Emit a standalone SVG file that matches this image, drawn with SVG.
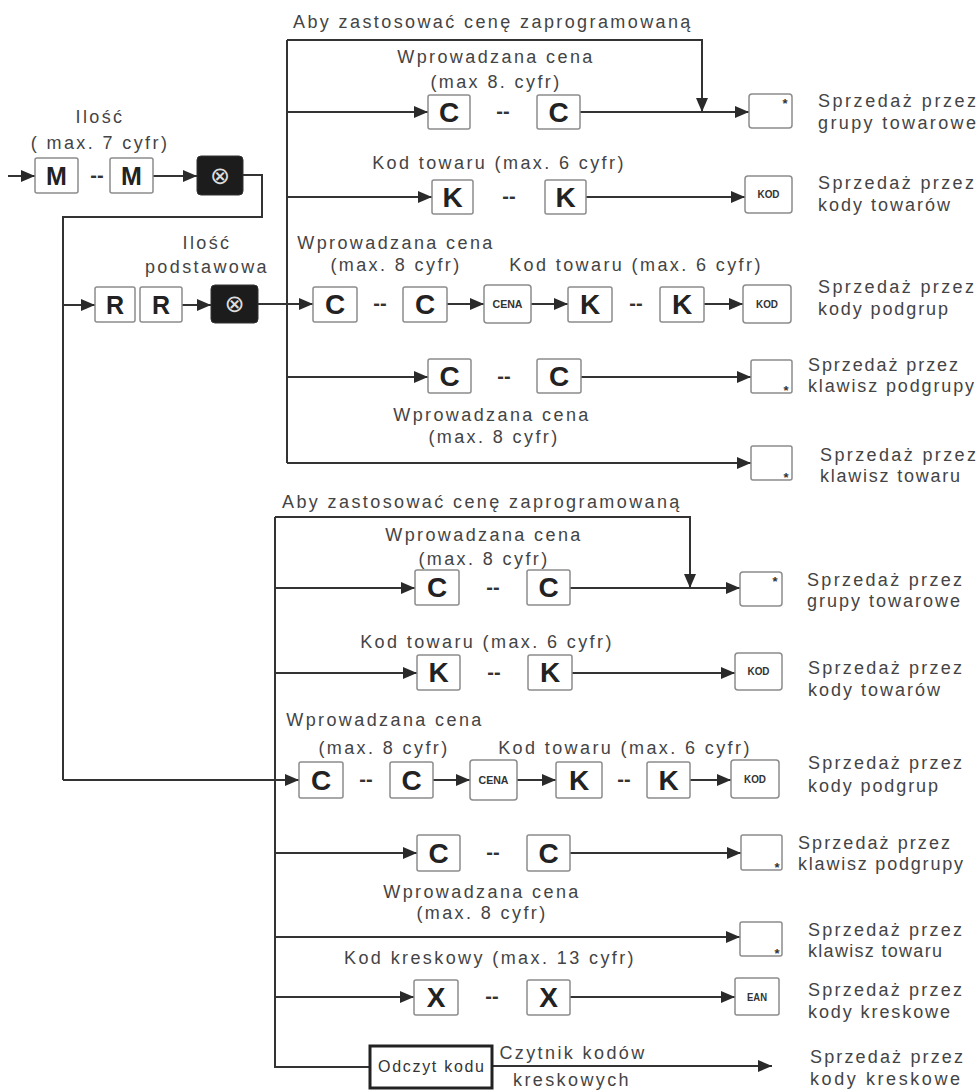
<svg xmlns="http://www.w3.org/2000/svg" width="979" height="1090" viewBox="0 0 979 1090">
<defs>
<marker id="ah" markerUnits="userSpaceOnUse" markerWidth="15" markerHeight="12" refX="14" refY="6" orient="auto">
<path d="M0,0 L14,6 L0,12 z" fill="#2a2a2a"/>
</marker>
<style>
.ln{stroke:#333;stroke-width:2;fill:none}
.ar{marker-end:url(#ah)}
.key{fill:#fff;stroke:#8c8c8c;stroke-width:1.5}
.dk{fill:#1c1c1c;stroke:#333;stroke-width:1}
.kl{font-family:"Liberation Sans",Arial,sans-serif;font-weight:bold;font-size:28px;fill:#222;text-anchor:middle}
.km{font-family:"Liberation Sans",Arial,sans-serif;font-weight:bold;font-size:25px;fill:#222;text-anchor:middle}
.ks{font-family:"Liberation Sans",Arial,sans-serif;font-weight:bold;font-size:11px;fill:#333;text-anchor:middle}
.st{font-family:"Liberation Sans",Arial,sans-serif;font-weight:bold;font-size:13px;fill:#333;text-anchor:middle}
.dash{font-family:"Liberation Sans",Arial,sans-serif;font-weight:bold;font-size:20px;fill:#333;text-anchor:middle}
.lb{font-family:"Liberation Sans",Arial,sans-serif;font-size:18px;fill:#444;letter-spacing:2.4px;text-anchor:middle}
.ls{font-family:"Liberation Sans",Arial,sans-serif;font-size:18px;fill:#444;letter-spacing:2.4px}
.rt{font-family:"Liberation Sans",Arial,sans-serif;font-size:18px;fill:#444}
.ox{font-family:"DejaVu Sans",sans-serif;font-size:24px;fill:#ddd;text-anchor:middle}
</style>
</defs>

<g id="connectors">
<path class="ln ar" d="M8,176 H35"/>
<path class="ln ar" d="M153,176 H197"/>
<path class="ln" d="M243,175 H262 V217 H63 V780"/>
<path class="ln ar" d="M63,780 H299"/>
<path class="ln ar" d="M63,305 H95"/>
<path class="ln ar" d="M182,305 H211"/>
<path class="ln" d="M287,40 V463"/>
<path class="ln ar" d="M287,40 H702 V112"/>
<path class="ln ar" d="M287,112 H428"/>
<path class="ln ar" d="M580,112 H749"/>
<path class="ln ar" d="M287,197 H432"/>
<path class="ln ar" d="M586,197 H745"/>
<path class="ln ar" d="M258,304 H313"/>
<path class="ln ar" d="M447,304 H484"/>
<path class="ln ar" d="M531,304 H568"/>
<path class="ln ar" d="M704,304 H743"/>
<path class="ln ar" d="M287,377 H428"/>
<path class="ln ar" d="M581,377 H751"/>
<path class="ln ar" d="M287,463 H751"/>
<path class="ln" d="M275,517 V1067 H370"/>
<path class="ln ar" d="M275,517 H690 V588"/>
<path class="ln ar" d="M275,588 H415"/>
<path class="ln ar" d="M570,588 H740"/>
<path class="ln ar" d="M275,673 H417"/>
<path class="ln ar" d="M572,673 H735"/>
<path class="ln ar" d="M433,780 H470"/>
<path class="ln ar" d="M517,780 H556"/>
<path class="ln ar" d="M690,780 H731"/>
<path class="ln ar" d="M275,853 H417"/>
<path class="ln ar" d="M570,853 H741"/>
<path class="ln ar" d="M275,937 H740"/>
<path class="ln ar" d="M275,997 H414"/>
<path class="ln ar" d="M570,997 H735"/>
<path class="ln ar" d="M492,1066 H772"/>
</g>

<g id="ilosc-label">
<text class="lb" x="100" y="123">Ilość</text>
<text class="lb" x="100" y="149">( max. 7 cyfr)</text>
</g>
<g id="m1"><rect class="key" x="35" y="158" width="43" height="35" rx="2"/><text class="km" x="56.5" y="185">M</text></g>
<text class="dash" x="97" y="182">--</text>
<g id="m2"><rect class="key" x="110" y="158" width="43" height="35" rx="2"/><text class="km" x="131.5" y="185">M</text></g>
<g id="x1"><rect class="dk" x="197" y="156" width="46" height="39" rx="4"/><text class="ox" x="220" y="184">⊗</text></g>

<g id="ilosc-podst-label">
<text class="lb" x="207" y="249">Ilość</text>
<text class="lb" x="207" y="273">podstawowa</text>
</g>
<g id="r1"><rect class="key" x="95" y="287" width="40" height="35" rx="2"/><text class="km" x="115" y="314">R</text></g>
<g id="r2"><rect class="key" x="140" y="287" width="42" height="35" rx="2"/><text class="km" x="161" y="314">R</text></g>
<g id="x2"><rect class="dk" x="211" y="285" width="47" height="38" rx="4"/><text class="ox" x="234.5" y="312">⊗</text></g>

<text class="ls" x="293" y="28">Aby zastosować cenę zaprogramowaną</text>
<text class="lb" x="496" y="63">Wprowadzana cena</text>
<text class="lb" x="496" y="88">(max 8. cyfr)</text>
<g id="t1c1"><rect class="key" x="428" y="95" width="42" height="34" rx="2"/><text class="kl" x="449" y="122">C</text></g>
<text class="dash" x="503" y="118">--</text>
<g id="t1c2"><rect class="key" x="537" y="95" width="43" height="34" rx="2"/><text class="kl" x="558.5" y="122">C</text></g>
<g id="t1out"><rect class="key" x="749" y="94" width="43" height="34" rx="3"/><text class="st" x="785" y="108">*</text></g>

<text class="lb" x="499" y="169">Kod towaru (max. 6 cyfr)</text>
<g id="t2k1"><rect class="key" x="432" y="180" width="41" height="34" rx="2"/><text class="kl" x="452.5" y="207">K</text></g>
<text class="dash" x="509" y="203">--</text>
<g id="t2k2"><rect class="key" x="545" y="180" width="41" height="34" rx="2"/><text class="kl" x="565.5" y="207">K</text></g>
<g id="t2out"><rect class="key" x="745" y="176" width="47" height="37" rx="3"/><text class="ks" x="768.5" y="198" textLength="22" lengthAdjust="spacingAndGlyphs">KOD</text></g>

<text class="lb" x="396" y="249">Wprowadzana cena</text>
<text class="lb" x="396" y="271">(max. 8 cyfr)</text>
<text class="lb" x="636" y="271">Kod towaru (max. 6 cyfr)</text>
<g id="t3c1"><rect class="key" x="313" y="287" width="44" height="35" rx="2"/><text class="kl" x="335" y="314">C</text></g>
<text class="dash" x="380" y="310">--</text>
<g id="t3c2"><rect class="key" x="403" y="287" width="44" height="35" rx="2"/><text class="kl" x="425" y="314">C</text></g>
<g id="t3cena"><rect class="key" x="484" y="285" width="47" height="38" rx="3"/><text class="ks" x="507.5" y="308" textLength="30" lengthAdjust="spacingAndGlyphs">CENA</text></g>
<g id="t3k1"><rect class="key" x="568" y="287" width="44" height="35" rx="2"/><text class="kl" x="590" y="314">K</text></g>
<text class="dash" x="636" y="310">--</text>
<g id="t3k2"><rect class="key" x="660" y="287" width="44" height="35" rx="2"/><text class="kl" x="682" y="314">K</text></g>
<g id="t3out"><rect class="key" x="743" y="285" width="48" height="38" rx="3"/><text class="ks" x="767" y="308" textLength="22" lengthAdjust="spacingAndGlyphs">KOD</text></g>

<g id="t4c1"><rect class="key" x="428" y="359" width="43" height="34" rx="2"/><text class="kl" x="449.5" y="386">C</text></g>
<text class="dash" x="504" y="383">--</text>
<g id="t4c2"><rect class="key" x="537" y="359" width="44" height="34" rx="2"/><text class="kl" x="559" y="386">C</text></g>
<g id="t4out"><rect class="key" x="751" y="360" width="41" height="33" rx="2"/><text class="st" x="786" y="395">*</text></g>
<text class="lb" x="492" y="421">Wprowadzana cena</text>
<text class="lb" x="494" y="443">(max. 8 cyfr)</text>
<g id="t5out"><rect class="key" x="751" y="446" width="41" height="34" rx="2"/><text class="st" x="786" y="482">*</text></g>

<g id="top-results">
<text class="rt" x="818" y="107" textLength="158" lengthAdjust="spacing">Sprzedaż przez</text>
<text class="rt" x="818" y="129" textLength="158" lengthAdjust="spacing">grupy towarowe</text>
<text class="rt" x="818" y="189" textLength="156" lengthAdjust="spacing">Sprzedaż przez</text>
<text class="rt" x="818" y="211" textLength="132" lengthAdjust="spacing">kody towarów</text>
<text class="rt" x="818" y="293" textLength="156" lengthAdjust="spacing">Sprzedaż przez</text>
<text class="rt" x="818" y="315" textLength="130" lengthAdjust="spacing">kody podgrup</text>
<text class="rt" x="808" y="371" textLength="150" lengthAdjust="spacing">Sprzedaż przez</text>
<text class="rt" x="808" y="392" textLength="166" lengthAdjust="spacing">klawisz podgrupy</text>
<text class="rt" x="820" y="461" textLength="156" lengthAdjust="spacing">Sprzedaż przez</text>
<text class="rt" x="820" y="482" textLength="140" lengthAdjust="spacing">klawisz towaru</text>
</g>

<text class="ls" x="282" y="508">Aby zastosować cenę zaprogramowaną</text>
<text class="lb" x="484" y="541">Wprowadzana cena</text>
<text class="lb" x="484" y="565">(max. 8 cyfr)</text>
<g id="b1c1"><rect class="key" x="415" y="570" width="44" height="35" rx="2"/><text class="kl" x="437" y="597">C</text></g>
<text class="dash" x="493" y="594">--</text>
<g id="b1c2"><rect class="key" x="527" y="570" width="43" height="35" rx="2"/><text class="kl" x="548.5" y="597">C</text></g>
<g id="b1out"><rect class="key" x="740" y="572" width="42" height="34" rx="3"/><text class="st" x="775" y="586">*</text></g>

<text class="lb" x="487" y="648">Kod towaru (max. 6 cyfr)</text>
<g id="b2k1"><rect class="key" x="417" y="655" width="43" height="35" rx="2"/><text class="kl" x="438.5" y="682">K</text></g>
<text class="dash" x="494" y="679">--</text>
<g id="b2k2"><rect class="key" x="528" y="655" width="44" height="35" rx="2"/><text class="kl" x="550" y="682">K</text></g>
<g id="b2out"><rect class="key" x="735" y="653" width="47" height="37" rx="3"/><text class="ks" x="758.5" y="675" textLength="22" lengthAdjust="spacingAndGlyphs">KOD</text></g>

<text class="lb" x="385" y="726">Wprowadzana cena</text>
<text class="lb" x="384" y="754">(max. 8 cyfr)</text>
<text class="lb" x="625" y="754">Kod towaru (max. 6 cyfr)</text>
<g id="b3c1"><rect class="key" x="299" y="762" width="44" height="36" rx="2"/><text class="kl" x="321" y="790">C</text></g>
<text class="dash" x="366" y="786">--</text>
<g id="b3c2"><rect class="key" x="390" y="762" width="43" height="36" rx="2"/><text class="kl" x="411.5" y="790">C</text></g>
<g id="b3cena"><rect class="key" x="470" y="760" width="47" height="40" rx="3"/><text class="ks" x="493.5" y="784" textLength="30" lengthAdjust="spacingAndGlyphs">CENA</text></g>
<g id="b3k1"><rect class="key" x="556" y="762" width="46" height="36" rx="2"/><text class="kl" x="579" y="790">K</text></g>
<text class="dash" x="624" y="786">--</text>
<g id="b3k2"><rect class="key" x="647" y="762" width="43" height="36" rx="2"/><text class="kl" x="668.5" y="790">K</text></g>
<g id="b3out"><rect class="key" x="731" y="760" width="48" height="38" rx="3"/><text class="ks" x="755" y="783" textLength="22" lengthAdjust="spacingAndGlyphs">KOD</text></g>

<g id="b4c1"><rect class="key" x="417" y="835" width="43" height="36" rx="2"/><text class="kl" x="438.5" y="863">C</text></g>
<text class="dash" x="493" y="859">--</text>
<g id="b4c2"><rect class="key" x="527" y="835" width="43" height="36" rx="2"/><text class="kl" x="548.5" y="863">C</text></g>
<g id="b4out"><rect class="key" x="741" y="835" width="41" height="35" rx="2"/><text class="st" x="777" y="872">*</text></g>
<text class="lb" x="482" y="898">Wprowadzana cena</text>
<text class="lb" x="482" y="919">(max. 8 cyfr)</text>
<g id="b5out"><rect class="key" x="740" y="922" width="42" height="34" rx="2"/><text class="st" x="777" y="958">*</text></g>

<text class="lb" x="490" y="964" textLength="292" lengthAdjust="spacing">Kod kreskowy (max. 13 cyfr)</text>
<g id="b6x1"><rect class="key" x="414" y="980" width="44" height="35" rx="2"/><text class="kl" x="436" y="1007">X</text></g>
<text class="dash" x="492" y="1003">--</text>
<g id="b6x2"><rect class="key" x="527" y="980" width="43" height="35" rx="2"/><text class="kl" x="548.5" y="1007">X</text></g>
<g id="b6out"><rect class="key" x="735" y="978" width="44" height="37" rx="2"/><text class="ks" x="757" y="1001" textLength="20" lengthAdjust="spacingAndGlyphs">EAN</text></g>

<g id="odczyt"><rect x="370" y="1046" width="122" height="42" fill="#fff" stroke="#222" stroke-width="3"/><text x="431" y="1072" font-family="Liberation Sans, Arial, sans-serif" font-size="16" fill="#333" text-anchor="middle" textLength="106" lengthAdjust="spacing">Odczyt kodu</text></g>
<text class="lb" x="573" y="1059">Czytnik kodów</text>
<text class="lb" x="572" y="1086">kreskowych</text>

<g id="bottom-results">
<text class="rt" x="807" y="586" textLength="155" lengthAdjust="spacing">Sprzedaż przez</text>
<text class="rt" x="807" y="607" textLength="153" lengthAdjust="spacing">grupy towarowe</text>
<text class="rt" x="808" y="674" textLength="154" lengthAdjust="spacing">Sprzedaż przez</text>
<text class="rt" x="808" y="696" textLength="132" lengthAdjust="spacing">kody towarów</text>
<text class="rt" x="808" y="769" textLength="154" lengthAdjust="spacing">Sprzedaż przez</text>
<text class="rt" x="808" y="792" textLength="130" lengthAdjust="spacing">kody podgrup</text>
<text class="rt" x="798" y="849" textLength="152" lengthAdjust="spacing">Sprzedaż przez</text>
<text class="rt" x="798" y="870" textLength="165" lengthAdjust="spacing">klawisz podgrupy</text>
<text class="rt" x="808" y="936" textLength="154" lengthAdjust="spacing">Sprzedaż przez</text>
<text class="rt" x="808" y="957" textLength="134" lengthAdjust="spacing">klawisz towaru</text>
<text class="rt" x="808" y="996" textLength="154" lengthAdjust="spacing">Sprzedaż przez</text>
<text class="rt" x="808" y="1018" textLength="142" lengthAdjust="spacing">kody kreskowe</text>
<text class="rt" x="810" y="1063" textLength="153" lengthAdjust="spacing">Sprzedaż przez</text>
<text class="rt" x="810" y="1085" textLength="150" lengthAdjust="spacing">kody kreskowe</text>
</g>
</svg>
